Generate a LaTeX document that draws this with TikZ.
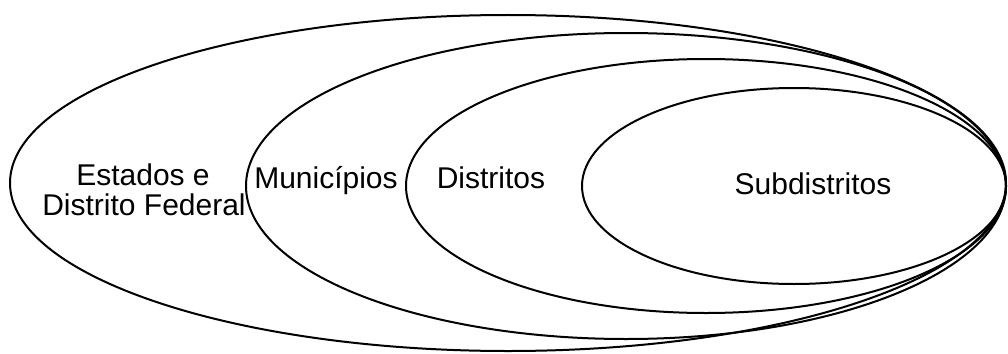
\documentclass[tikz,border=0pt]{standalone}
\usepackage{fontspec}
\setmainfont{Liberation Sans}
\usetikzlibrary{shapes.geometric}
\begin{document}
\begin{tikzpicture}[x=1pt,y=-1pt,
  ring/.style={draw=black,line width=2pt,ellipse,inner sep=0pt},
  lbl/.style={font=\fontsize{30}{30}\selectfont,inner sep=0pt,align=center}]
\useasboundingbox (0,0) rectangle (1008,353);
\node[ring,minimum width=996pt,minimum height=336pt] (e1) at (508,183) {};
\node[ring,minimum width=760pt,minimum height=306pt] (e2) at (626,186) {};
\node[ring,minimum width=600pt,minimum height=254pt] (e3) at (706,186) {};
\node[ring,minimum width=424pt,minimum height=196pt] (e4) at (794,186) {};
\node[lbl,anchor=base] (t1a) at (143,185) {Estados e};
\node[lbl,anchor=base] (t1b) at (144,215) {Distrito Federal};
\node[lbl,anchor=base] (t2) at (326,188) {Municípios};
\node[lbl,anchor=base] (t3) at (491,188) {Distritos};
\node[lbl,anchor=base] (t4) at (813,194) {Subdistritos};
\end{tikzpicture}
\end{document}
